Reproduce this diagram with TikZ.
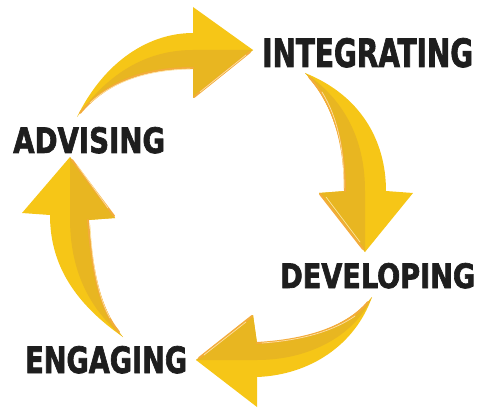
\documentclass[tikz,border=0pt]{standalone}
\usepackage{fontspec}
\usepackage{graphicx}
\newfontfamily\cyclefont[FakeBold=2]{DejaVu Sans Condensed Bold}
\definecolor{arrowyellow}{HTML}{F6C617}
\definecolor{arrowdark}{HTML}{E8B621}
\definecolor{arrowrim}{HTML}{F3AB3C}
\definecolor{arrowshine}{HTML}{FDE2A0}
\definecolor{labelblack}{HTML}{1E1E1E}
% label scaled to the width and cap height of the original lettering
\newcommand{\cyclabel}[3]{\resizebox{#1pt}{#2pt}{\cyclefont #3}}

\begin{document}
\begin{tikzpicture}[x=1pt,y=-1pt,
                    face/.style={fill=arrowyellow},
                    shade half/.style={fill=arrowdark},
                    rim/.style={draw=arrowrim,line width=2pt,line cap=round,line join=round},
                    shine/.style={draw=arrowshine,line width=0.7pt,line cap=round},
                    stage/.style={inner sep=0pt,anchor=base west,text=labelblack}]
  \useasboundingbox (0,0) rectangle (479,409);

  % top arrow: advising -> integrating
  \fill[face] (77,117) .. controls (105,60) and (150,33) .. (193,33)
    -- (193,7) -- (253,50) -- (193,98) -- (193,68)
    .. controls (140,68) and (100,85) .. (77,117) -- cycle;
  \fill[shade half] (77,117) .. controls (110,70) and (150,50) .. (193,50)
    -- (253,50) -- (193,98) -- (193,68)
    .. controls (140,68) and (100,85) .. (77,117) -- cycle;
  \draw[rim] (80,113) .. controls (105,84) and (140,68) .. (193,68);
  \draw[rim] (194,97) -- (250,52);
  \draw[shine] (90,103) .. controls (115,80) and (150,70) .. (190,69);
  \draw[shine] (200,92) -- (246,55);

  % right arrow: integrating -> developing
  \fill[face] (305,73) .. controls (360,95) and (386,140) .. (386,191)
    -- (413,193) -- (365,252) -- (319,193) -- (345,191)
    .. controls (345,140) and (330,100) .. (305,73) -- cycle;
  \fill[shade half] (305,73) .. controls (345,100) and (365,140) .. (365,191)
    -- (365,252) -- (319,193) -- (345,191)
    .. controls (345,140) and (330,100) .. (305,73) -- cycle;
  \draw[rim] (309,77) .. controls (332,102) and (345,140) .. (345,191);
  \draw[rim] (320,194) -- (363,249);
  \draw[shine] (322,92) .. controls (338,118) and (344,150) .. (344,188);
  \draw[shine] (326,197) -- (360,242);

  % bottom arrow: developing -> engaging
  \fill[face] (372,297) .. controls (355,345) and (310,375) .. (257,377)
    -- (257,407) -- (196,360) -- (253,315) -- (257,343)
    .. controls (310,340) and (350,325) .. (372,297) -- cycle;
  \fill[shade half] (372,297) .. controls (355,335) and (310,360) .. (257,360)
    -- (196,360) -- (253,315) -- (257,343)
    .. controls (310,340) and (350,325) .. (372,297) -- cycle;
  \draw[rim] (368,302) .. controls (348,326) and (310,340) .. (257,343);
  \draw[rim] (252,316) -- (199,358);
  \draw[shine] (355,316) .. controls (335,330) and (305,340) .. (262,343);
  \draw[shine] (246,322) -- (204,355);

  % left arrow: engaging -> advising
  \fill[face] (123,337) .. controls (70,300) and (50,260) .. (50,215)
    -- (22,213) -- (70,157) -- (115,218) -- (88,220)
    .. controls (92,270) and (100,310) .. (123,337) -- cycle;
  \fill[shade half] (123,337) .. controls (85,305) and (70,265) .. (70,218)
    -- (70,157) -- (115,218) -- (88,220)
    .. controls (92,270) and (100,310) .. (123,337) -- cycle;
  \draw[rim] (119,332) .. controls (99,308) and (92,270) .. (88,220);
  \draw[rim] (72,160) -- (114,216);
  \draw[shine] (110,318) .. controls (97,295) and (92,260) .. (90,225);
  \draw[shine] (77,165) -- (108,208);

  % stage labels
  \node[stage] (integrating) at (262,67) {\cyclabel{211}{29}{INTEGRATING}};
  \node[stage] (advising) at (13,153) {\cyclabel{152}{26}{ADVISING}};
  \node[stage] (developing) at (280,288) {\cyclabel{195}{25}{DEVELOPING}};
  \node[stage] (engaging) at (25,373) {\cyclabel{162}{27}{ENGAGING}};
\end{tikzpicture}
\end{document}
